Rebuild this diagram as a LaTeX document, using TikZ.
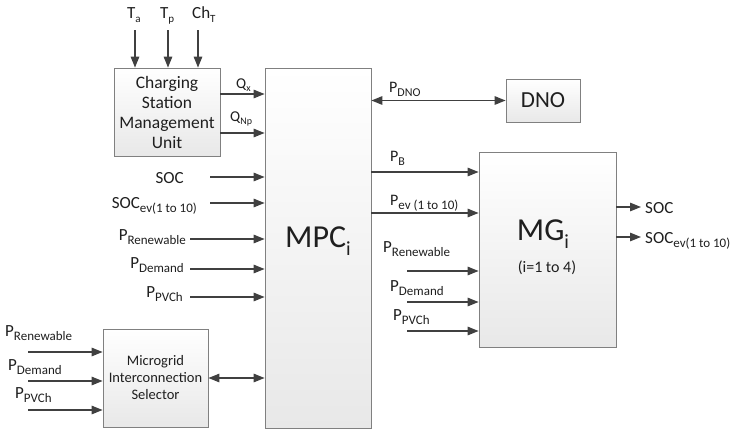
\documentclass[tikz,border=0pt]{standalone}
\usepackage{fontspec}
\usepackage{graphicx}
\setmainfont{Carlito}
\usetikzlibrary{arrows.meta,shadows}
\newcommand{\sbt}[2][13]{\raisebox{-0.25em}{\fontsize{#1}{#1}\selectfont #2}}
\begin{document}
\begin{tikzpicture}[x=1pt,y=-1pt,
  box/.style={draw=black!50, line width=0.8pt, top color=white, bottom color=black!9,
    drop shadow={opacity=0.2,shadow xshift=1.2pt,shadow yshift=-1.2pt},
    inner sep=0pt, align=center, text=black!88},
  arr/.style={draw=black!75, line width=1.3pt, -{Triangle[length=11pt,width=8.5pt]}},
  darr/.style={draw=black!75, line width=1.3pt, {Triangle[length=11pt,width=8.5pt]}-{Triangle[length=11pt,width=8.5pt]}},
  lbl/.style={inner sep=0pt, font=\fontsize{17}{20}\selectfont, text=black!88},
  rlbl/.style={inner sep=0pt, font=\fontsize{16}{20}\selectfont, text=black!88},
]
\useasboundingbox[fill=white] (0,0) rectangle (737,432);

% boxes
\node[box, minimum width=106pt, minimum height=88pt, font=\fontsize{17.5}{20}\selectfont] (csmu) at (167,112) {Charging\\Station\\Management\\Unit};
\node[box, minimum width=106pt, minimum height=360pt] (mpc) at (318,248) {};
\node[box, minimum width=74pt, minimum height=43pt, font=\fontsize{23}{23}\selectfont] (dno) at (543,100.5) {DNO};
\node[box, minimum width=137pt, minimum height=195pt] (mg) at (547.5,249.5) {};
\node[box, minimum width=105pt, minimum height=98pt, font=\fontsize{14.5}{17}\selectfont] (mis) at (155.5,378) {Microgrid\\Interconnection\\Selector};

% box texts
\node[lbl, font=\fontsize{32}{32}\selectfont, anchor=base] (mpct) at (318,247) {MPC\sbt[20]{i}};
\node[lbl, font=\fontsize{32}{32}\selectfont, anchor=base] (mgt) at (543,240) {MG\sbt[20]{i}};
\node[lbl, font=\fontsize{16}{16}\selectfont, anchor=base] (mgi) at (547,272) {(i=1 to 4)};

% top inputs to CSMU
\node[lbl, anchor=base west] (lta) at (127,18) {T\sbt[11]{a}};
\node[lbl, anchor=base west] (ltp) at (160,18) {T\sbt[11]{p}};
\node[lbl, anchor=base west] (lcht) at (192,18) {Ch\sbt[11]{T}};
\coordinate (ta) at (135,30);
\coordinate (tp) at (168,30);
\coordinate (cht) at (198,30);
\draw[arr] (ta) -- (ta |- csmu.north);
\draw[arr] (tp) -- (tp |- csmu.north);
\draw[arr] (cht) -- (cht |- csmu.north);

% CSMU to MPC
\coordinate (qx) at (0,94);
\coordinate (qnp) at (0,133);
\draw[arr] (qx -| csmu.east) -- (qx -| mpc.west);
\draw[arr] (qnp -| csmu.east) -- (qnp -| mpc.west);
\node[lbl, font=\fontsize{15}{16}\selectfont, anchor=base west] (lqx) at (236,88) {Q\sbt[10]{x}};
\node[lbl, font=\fontsize{15}{16}\selectfont, anchor=base west] (lqnp) at (230,121) {Q\sbt[10]{Np}};

% left inputs to MPC
\coordinate (isoc) at (210,177);
\coordinate (isocev) at (210,203);
\coordinate (iren) at (190,239);
\coordinate (idem) at (190,269);
\coordinate (ipv) at (190,297);
\draw[arr] (isoc) -- (isoc -| mpc.west);
\draw[arr] (isocev) -- (isocev -| mpc.west);
\draw[arr] (iren) -- (iren -| mpc.west);
\draw[arr] (idem) -- (idem -| mpc.west);
\draw[arr] (ipv) -- (ipv -| mpc.west);
\node[lbl, anchor=base east] (lsoc) at (184,183) {SOC};
\node[lbl, anchor=base east] (lsocev) at (197,208) {SOC\sbt{ev(1 to 10)}};
\node[lbl, anchor=base east] (lren) at (186,240) {P\sbt{Renewable}};
\node[lbl, anchor=base east] (ldem) at (184,268) {P\sbt{Demand}};
\node[lbl, anchor=base east] (lpv) at (183,297) {P\sbt{PVCh}};

% DNO
\draw[darr] (mpc.east |- dno.west) -- (dno.west);
\node[rlbl, anchor=base west] (ldno) at (389,92) {P\sbt[12]{DNO}};

% MPC to MG
\coordinate (pb) at (0,172);
\coordinate (pev) at (0,213);
\draw[arr] (pb -| mpc.east) -- (pb -| mg.west);
\draw[arr] (pev -| mpc.east) -- (pev -| mg.west);
\node[rlbl, anchor=base west] (lpb) at (390,161) {P\sbt[12]{B}};
\node[rlbl, anchor=base west] (lpev) at (390,205) {P\sbt{ev (1 to 10)}};

% MG inputs
\coordinate (mren) at (407,271);
\coordinate (mdem) at (407,302);
\coordinate (mpv) at (407,331);
\draw[arr] (mren) -- (mren -| mg.west);
\draw[arr] (mdem) -- (mdem -| mg.west);
\draw[arr] (mpv) -- (mpv -| mg.west);
\node[lbl, anchor=base west] (lmren) at (383,252) {P\sbt{Renewable}};
\node[lbl, anchor=base west] (lmdem) at (390,291) {P\sbt{Demand}};
\node[lbl, anchor=base west] (lmpv) at (393,320) {P\sbt{PVCh}};

% MG outputs
\coordinate (osoc) at (641,207);
\coordinate (osocev) at (641,237);
\draw[arr] (osoc -| mg.east) -- (osoc);
\draw[arr] (osocev -| mg.east) -- (osocev);
\node[lbl, anchor=base west] (losoc) at (645,213) {SOC};
\node[lbl, anchor=base west] (losocev) at (645,243) {SOC\sbt{ev(1 to 10)}};

% MIS
\draw[darr] (mis.east) -- (mis.east -| mpc.west);
\coordinate (bren) at (28,352);
\coordinate (bdem) at (28,381);
\coordinate (bpv) at (28,410);
\draw[arr] (bren) -- (bren -| mis.west);
\draw[arr] (bdem) -- (bdem -| mis.west);
\draw[arr] (bpv) -- (bpv -| mis.west);
\node[lbl, anchor=base west] (lbren) at (5,336) {P\sbt{Renewable}};
\node[lbl, anchor=base west] (lbdem) at (8,370) {P\sbt{Demand}};
\node[lbl, anchor=base west] (lbpv) at (15,398) {P\sbt{PVCh}};
\end{tikzpicture}
\end{document}
